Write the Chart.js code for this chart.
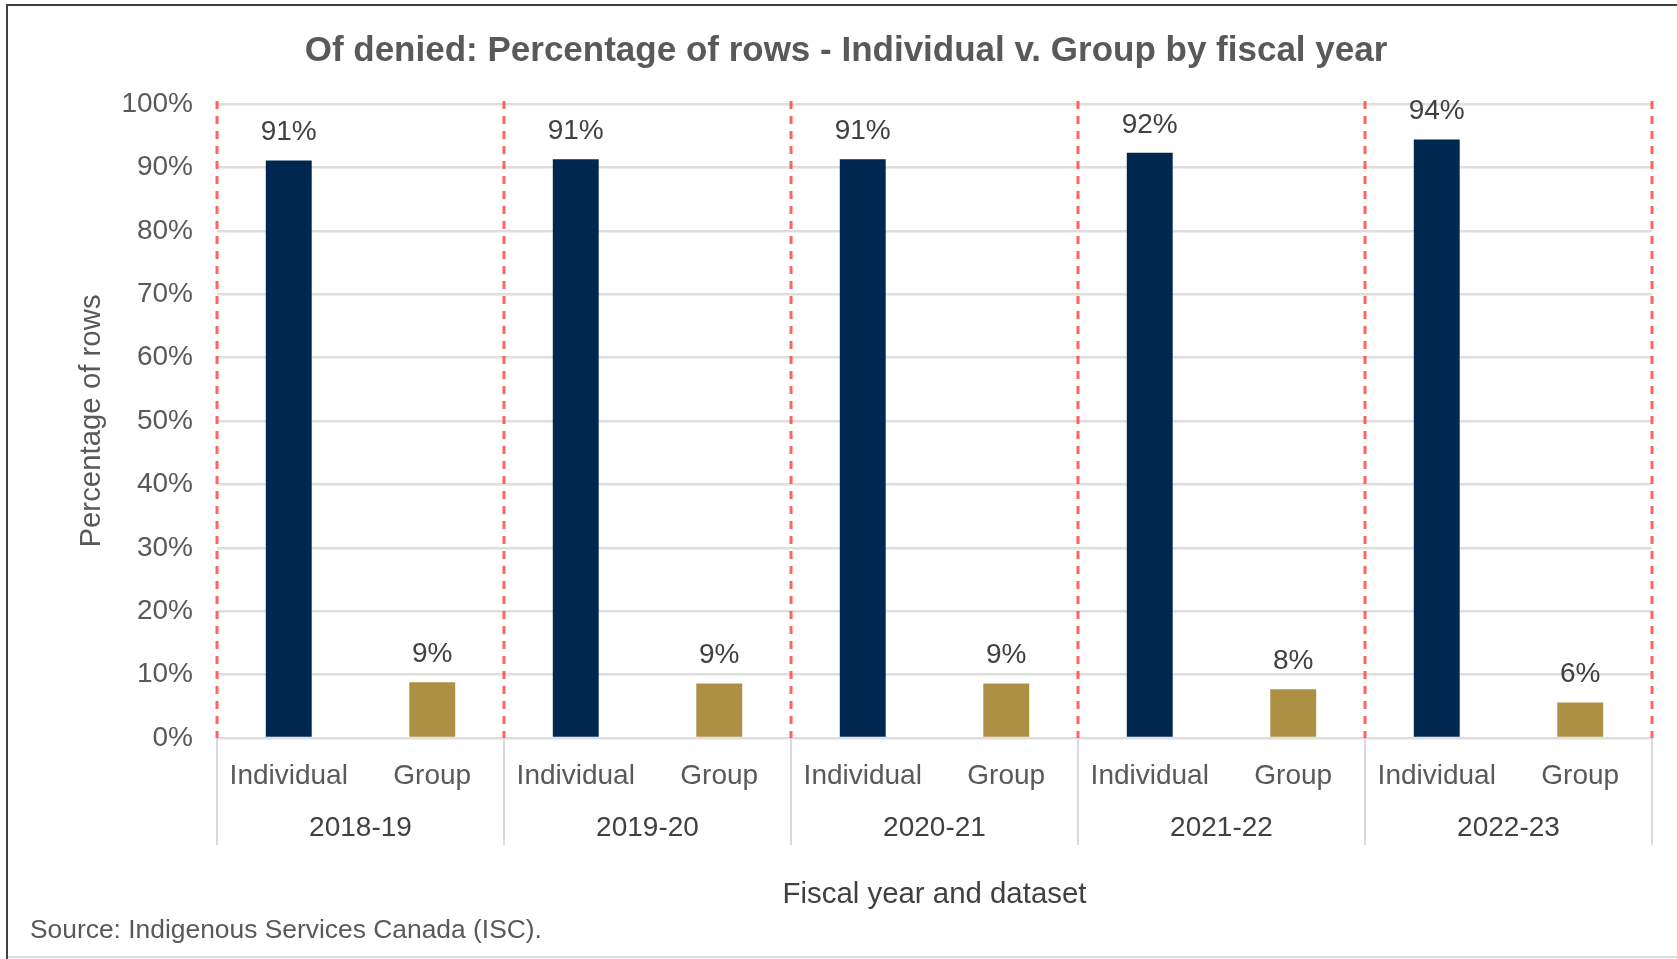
<!DOCTYPE html>
<html><head><meta charset="utf-8">
<script src="https://cdn.jsdelivr.net/npm/chart.js@4/dist/chart.umd.min.js"></script>
<style>html,body{margin:0;padding:0;background:#fff;}canvas{display:block;}</style>
</head><body>
<canvas id="c" width="1677" height="959"></canvas>
<script>
// ---- data ----
const fiscalYears = ['2018-19', '2019-20', '2020-21', '2021-22', '2022-23'];
const datasetTypes = ['Individual', 'Group'];
const individualPct = [91.1, 91.3, 91.3, 92.3, 94.4];
const groupPct = [8.8, 8.6, 8.6, 7.7, 5.6];
const titleText = 'Of denied: Percentage of rows - Individual v. Group by fiscal year';
const yAxisTitle = 'Percentage of rows';
const xAxisTitle = 'Fiscal year and dataset';
const sourceText = 'Source: Indigenous Services Canada (ISC).';

// ---- derived ----
const labels = fiscalYears.flatMap(() => datasetTypes);
const values = fiscalYears.flatMap((y, i) => [individualPct[i], groupPct[i]]);
const colors = fiscalYears.flatMap(() => ['#00274f', '#ad9043']);

const FONT = '"Liberation Sans", Arial, sans-serif';
const TEXT = '#595959';
const DARK = '#404040';

const decor = {
  id: 'decor',
  beforeDraw(chart) {
    const ctx = chart.ctx;
    ctx.save();
    ctx.fillStyle = '#fff';
    ctx.fillRect(0, 0, chart.width, chart.height);
    ctx.fillStyle = '#404040';
    ctx.fillRect(6, 4, chart.width - 6, 2);
    ctx.fillRect(6, 4, 2, chart.height - 4);
    ctx.fillStyle = '#dcdcdc';
    ctx.fillRect(8, chart.height - 3, chart.width - 8, 2);
    ctx.restore();
  },
  afterDatasetsDraw(chart) {
    const ctx = chart.ctx;
    const xs = chart.scales.x;
    const area = chart.chartArea;
    ctx.save();
    // red dashed separators between fiscal years
    ctx.strokeStyle = 'rgba(255,60,60,0.8)';
    ctx.lineWidth = 3;
    ctx.setLineDash([8, 7]);
    for (let k = 0; k <= fiscalYears.length; k++) {
      const x = xs.getPixelForValue(2 * k - 0.5);
      ctx.beginPath();
      ctx.moveTo(x, area.top - 3);
      ctx.lineTo(x, area.bottom);
      ctx.stroke();
    }
    ctx.setLineDash([]);
    // value labels
    ctx.font = '28px ' + FONT;
    ctx.fillStyle = DARK;
    ctx.textAlign = 'center';
    ctx.textBaseline = 'middle';
    const meta = chart.getDatasetMeta(0);
    meta.data.forEach((bar, i) => {
      ctx.fillText(Math.round(values[i]) + '%', bar.x, bar.y - 28);
    });
    ctx.restore();
  },
  afterDraw(chart) {
    const ctx = chart.ctx;
    const xs = chart.scales.x;
    const area = chart.chartArea;
    ctx.save();
    // title
    ctx.font = 'bold 35px ' + FONT;
    ctx.fillStyle = TEXT;
    ctx.textAlign = 'center';
    ctx.textBaseline = 'middle';
    ctx.fillText(titleText, 846, 51);
    // group separators below axis
    ctx.strokeStyle = '#d9d9d9';
    ctx.lineWidth = 2;
    for (let k = 0; k <= fiscalYears.length; k++) {
      const x = xs.getPixelForValue(2 * k - 0.5);
      ctx.beginPath();
      ctx.moveTo(x, area.bottom);
      ctx.lineTo(x, 845);
      ctx.stroke();
    }
    // year labels
    ctx.font = '28px ' + FONT;
    ctx.fillStyle = DARK;
    fiscalYears.forEach((y, k) => {
      const x = xs.getPixelForValue(2 * k + 0.5);
      ctx.fillText(y, x, 828);
    });
    // source
    ctx.font = '26.4px ' + FONT;
    ctx.fillStyle = TEXT;
    ctx.textAlign = 'left';
    ctx.fillText(sourceText, 30, 931);
    ctx.restore();
  }
};

new Chart(document.getElementById('c'), {
  type: 'bar',
  data: {
    labels: labels,
    datasets: [{
      data: values,
      backgroundColor: colors,
      borderWidth: 0,
      barPercentage: 0.32,
      categoryPercentage: 1
    }]
  },
  options: {
    responsive: false,
    animation: false,
    devicePixelRatio: 1,
    layout: { padding: { top: 104, right: 25, left: 0, bottom: 0 } },
    plugins: { legend: { display: false }, tooltip: { enabled: false }, title: { display: false } },
    scales: {
      x: {
        grid: { display: false, drawTicks: false },
        border: { display: false },
        ticks: { font: { family: FONT, size: 28 }, color: TEXT, padding: 21, maxRotation: 0, autoSkip: false },
        title: { display: true, text: xAxisTitle, font: { family: FONT, size: 29.4 }, color: DARK, padding: { top: 0, bottom: 46 } },
        afterFit(scale) { scale.height = 221; }
      },
      y: {
        min: 0, max: 100,
        ticks: { stepSize: 10, callback: v => v + '%', font: { family: FONT, size: 28 }, color: TEXT, padding: 24 },
        grid: { color: '#dedede', lineWidth: 2.5, drawTicks: false },
        border: { display: false },
        title: { display: true, text: yAxisTitle, font: { family: FONT, size: 29.4 }, color: TEXT, padding: { top: 74, bottom: 0 } },
        afterFit(scale) { scale.width = 217; }
      }
    }
  },
  plugins: [decor]
});
</script>
</body></html>
